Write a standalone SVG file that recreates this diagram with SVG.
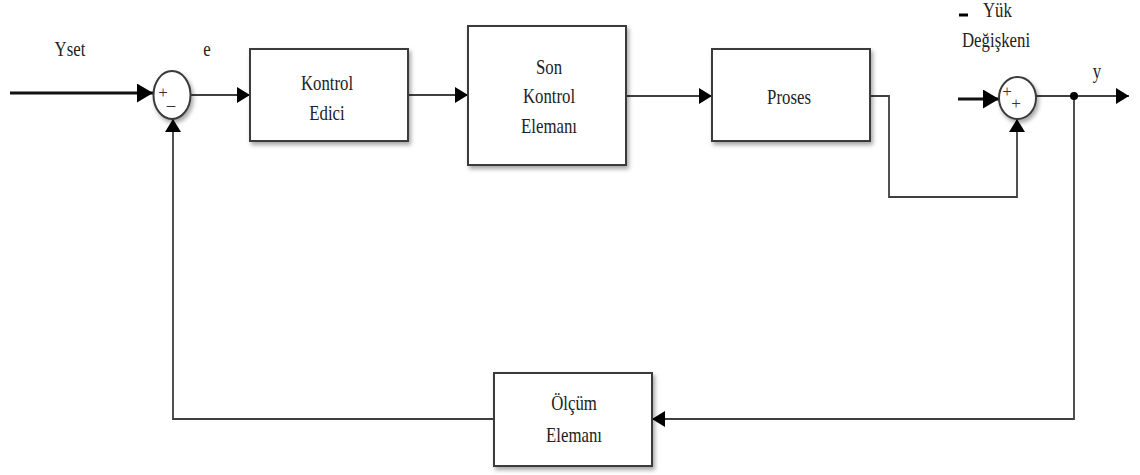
<svg xmlns="http://www.w3.org/2000/svg" width="1140" height="475" viewBox="0 0 1140 475">
  <style>
    .blk { fill: #ffffff; stroke: #3a3a3a; stroke-width: 2; filter: url(#shadow); }
    .sum { fill: #ffffff; stroke: #3a3a3a; stroke-width: 2; filter: url(#shadow); }
    .wire { fill: none; stroke: #3f3f3f; stroke-width: 1.8; }
    .wire-in { fill: none; stroke: #111111; stroke-width: 2.8; }
    .lbl { font-size: 21px; fill: #222222; text-anchor: middle; }
    .lbl-start { text-anchor: start; }
    .sign { font-size: 17px; fill: #333333; text-anchor: middle; }
  </style>
  <defs>
    <filter id="shadow" x="-10%" y="-10%" width="130%" height="140%">
      <feDropShadow dx="2" dy="3" stdDeviation="2" flood-color="#000000" flood-opacity="0.35"/>
    </filter>
    <marker id="arr" viewBox="0 0 13 16" refX="13" refY="8" markerWidth="13" markerHeight="16" markerUnits="userSpaceOnUse" orient="auto">
      <path d="M0,0 L13,8 L0,16 Z" fill="#000000"/>
    </marker>
    <marker id="arrBig" viewBox="0 0 16 19" refX="16" refY="9.5" markerWidth="16" markerHeight="19" markerUnits="userSpaceOnUse" orient="auto">
      <path d="M0,0 L16,9.5 L0,19 Z" fill="#000000"/>
    </marker>
  </defs>

  <!-- signal lines -->
  <g id="connectors">
    <path class="wire-in" d="M10,93 H153" marker-end="url(#arrBig)"/>
    <path class="wire" d="M191,95 H250" marker-end="url(#arr)"/>
    <path class="wire" d="M408,95 H468" marker-end="url(#arr)"/>
    <path class="wire" d="M626,96 H712" marker-end="url(#arr)"/>
    <path class="wire" d="M870,96 H889 V197 H1017 V119" marker-end="url(#arr)"/>
    <path class="wire-in" d="M958,99 H999" marker-end="url(#arrBig)"/>
    <path class="wire" d="M1036,96 H1129" marker-end="url(#arr)"/>
    <path class="wire" d="M1074,96 V419 H652" marker-end="url(#arr)"/>
    <path class="wire" d="M494,419 H173 V119" marker-end="url(#arr)"/>
    <circle cx="1074" cy="96" r="4" fill="#000000"/>
  </g>

  <g font-family="'Liberation Serif', 'DejaVu Serif', 'Times New Roman', serif">
    <!-- setpoint and error labels -->
    <g id="label-yset">
      <text class="lbl" transform="translate(70,56) scale(0.8,1)">Yset</text>
    </g>
    <g id="label-e">
      <text class="lbl" transform="translate(207,56) scale(0.8,1)">e</text>
    </g>

    <!-- comparator -->
    <g id="sum-error">
      <ellipse class="sum" cx="172" cy="95" rx="18.5" ry="24"/>
      <text class="sign" x="163" y="98">+</text>
      <text class="sign" x="171" y="110">–</text>
    </g>

    <g id="kontrol-edici">
      <rect class="blk" x="250" y="49" width="158" height="92"/>
      <text class="lbl" transform="translate(327,90) scale(0.8,1)">Kontrol</text>
      <text class="lbl" transform="translate(327,120) scale(0.8,1)">Edici</text>
    </g>

    <g id="son-kontrol-elemani">
      <rect class="blk" x="468" y="26" width="158" height="139"/>
      <text class="lbl" transform="translate(549,74) scale(0.8,1)">Son</text>
      <text class="lbl" transform="translate(549,103) scale(0.8,1)">Kontrol</text>
      <text class="lbl" transform="translate(549,133) scale(0.8,1)">Elemanı</text>
    </g>

    <g id="proses">
      <rect class="blk" x="712" y="49" width="158" height="92"/>
      <text class="lbl" transform="translate(789,104) scale(0.8,1)">Proses</text>
    </g>

    <!-- load disturbance input -->
    <g id="label-yuk">
      <line x1="959" y1="15" x2="968" y2="15" stroke="#000000" stroke-width="3"/>
      <text class="lbl lbl-start" transform="translate(983,17) scale(0.8,1)">Yük</text>
      <text class="lbl lbl-start" transform="translate(962,47) scale(0.8,1)">Değişkeni</text>
    </g>

    <g id="sum-load">
      <ellipse class="sum" cx="1017.5" cy="98" rx="18.5" ry="21"/>
      <text class="sign" x="1007" y="97">+</text>
      <text class="sign" x="1016" y="109">+</text>
    </g>

    <g id="label-y">
      <text class="lbl" transform="translate(1097,78) scale(0.8,1)">y</text>
    </g>

    <g id="olcum-elemani">
      <rect class="blk" x="494" y="373" width="158" height="93"/>
      <text class="lbl" transform="translate(574,410) scale(0.8,1)">Ölçüm</text>
      <text class="lbl" transform="translate(574,442) scale(0.8,1)">Elemanı</text>
    </g>
  </g>
</svg>
